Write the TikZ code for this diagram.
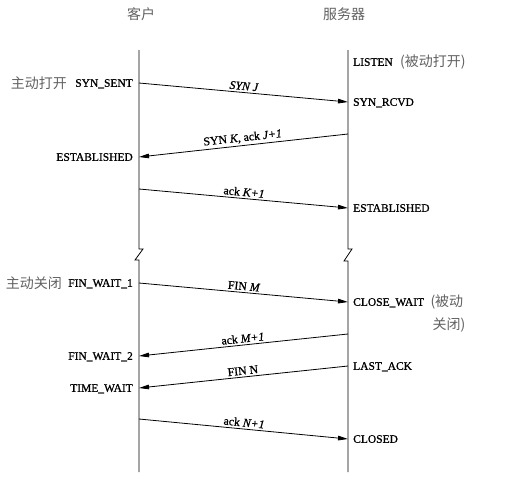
\documentclass[tikz,border=0pt]{standalone}
\usepackage{fontspec}
\setmainfont{Liberation Serif}[BoldFont={Liberation Serif}, BoldFeatures={FakeBold=0.9},
  BoldItalicFont={Liberation Serif Italic}, BoldItalicFeatures={FakeBold=0.9}]
\newfontfamily\cjk{Noto Sans CJK SC}
\usepackage{tikz}
\usetikzlibrary{arrows.meta,positioning}

\begin{document}
\begin{tikzpicture}[
    x=1pt, y=-1pt, % one unit is one pixel of the reference
    state/.style={font=\bfseries\fontsize{11.5}{13}\selectfont, inner sep=0pt, text height=7.6pt, text depth=0pt},
    note/.style={font=\cjk\fontsize{14}{23}\selectfont, text=black!62, inner sep=0pt},
    msg/.style={-{Triangle[length=10pt,width=4.6pt]}, line width=0.8pt},
    msglabel/.style={font=\bfseries\fontsize{11.8}{13}\selectfont, sloped, above, inner sep=2pt},
    life/.style={line width=0.8pt}
]
    \useasboundingbox (0,0) rectangle (506,482);

    % Titles
    \node[note] (client) at (141,14) {客户};
    \node[note] (server) at (344,14) {服务器};

    % Points on the two lifelines
    \coordinate (ctop) at (139,50);
    \coordinate (cbot) at (139,472);
    \coordinate (stop) at (348,50);
    \coordinate (sbot) at (348,472);
    \coordinate (s0) at (348,62);
    \coordinate (c1) at (139,83);  \coordinate (s1) at (348,102);
    \coordinate (s2) at (348,134); \coordinate (c2) at (139,157);
    \coordinate (c3) at (139,189); \coordinate (s3) at (348,208);
    \coordinate (c4) at (139,283); \coordinate (s4) at (348,302);
    \coordinate (s5) at (348,334); \coordinate (c5) at (139,356);
    \coordinate (s6) at (348,366); \coordinate (c6) at (139,388);
    \coordinate (c7) at (139,419); \coordinate (s7) at (348,439);

    % Lifelines with a break
    \draw[life] (ctop) -- (139,249) -- ++(4,0) -- ++(-8,11) -- ++(4,0) -- (cbot);
    \draw[life] (stop) -- (348,249) -- ++(4,0) -- ++(-8,12) -- ++(4,0) -- (sbot);

    % Client states
    \node[state, left=6pt of c1] (synsent) {SYN\_SENT};
    \node[note, left=8pt of synsent] (actopen) {主动打开};
    \node[state, left=6pt of c2] (cestab) {ESTABLISHED};
    \node[state, left=6pt of c4] (finwait1) {FIN\_WAIT\_1};
    \node[note, left=6pt of finwait1] (actclose) {主动关闭};
    \node[state, left=6pt of c5] (finwait2) {FIN\_WAIT\_2};
    \node[state, left=6pt of c6] (timewait) {TIME\_WAIT};

    % Server states
    \node[state, right=5pt of s0] (listen) {LISTEN};
    \node[note, right=7pt of listen] (pasopen) {(被动打开)};
    \node[state, right=5pt of s1] (synrcvd) {SYN\_RCVD};
    \node[state, right=5pt of s3] (sestab) {ESTABLISHED};
    \node[state, right=5pt of s4] (closewait) {CLOSE\_WAIT};
    \node[note, right=6pt of closewait.north east, anchor=north west, yshift=3pt, align=left] (pasclose) {(被动\\\hspace{2pt}关闭)};
    \node[state, right=5pt of s6] (lastack) {LAST\_ACK};
    \node[state, right=5pt of s7] (closed) {CLOSED};

    % Segments
    \draw[msg] (c1) -- node[msglabel] {\textit{SYN J}} (s1);
    \draw[msg] (s2) -- node[msglabel] {SYN \textit{K}, ack \textit{J+1}} (c2);
    \draw[msg] (c3) -- node[msglabel] {ack \textit{K+1}} (s3);
    \draw[msg] (c4) -- node[msglabel] {FIN \textit{M}} (s4);
    \draw[msg] (s5) -- node[msglabel] {ack \textit{M+1}} (c5);
    \draw[msg] (s6) -- node[msglabel] {FIN N} (c6);
    \draw[msg] (c7) -- node[msglabel] {ack \textit{N+1}} (s7);
\end{tikzpicture}
\end{document}
